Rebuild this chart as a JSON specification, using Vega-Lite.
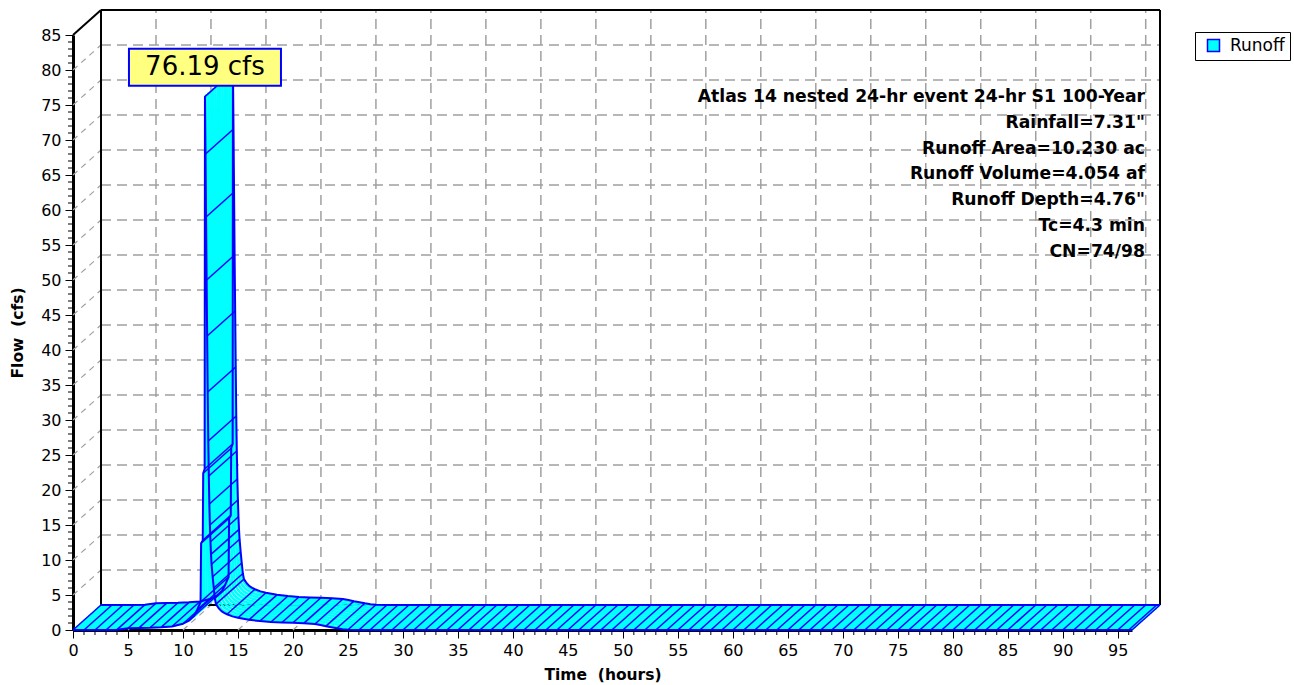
{
  "$schema": "https://vega.github.io/schema/vega-lite/v6.json",
  "width": 1059,
  "height": 595,
  "autosize": {"type": "none"},
  "padding": {"left": 73, "top": 35, "right": 162, "bottom": 55},
  "background": "#ffffff",
  "config": {
    "view": {"stroke": null},
    "font": "DejaVu Sans",
    "axisX": {
      "tickSize": 8, "grid": false, "domainColor": "#000000", "domainWidth": 3,
      "tickColor": "#000000", "tickWidth": 1,
      "labelFont": "DejaVu Sans", "labelFontSize": 16, "labelColor": "#000000", "labelPadding": 4,
      "labelFlush": false, "labelOverlap": false,
      "titleFont": "DejaVu Sans", "titleFontSize": 15.5, "titleFontWeight": "bold", "titleColor": "#000000", "titlePadding": 9
    },
    "axisY": {
      "tickSize": 8, "grid": false, "domainColor": "#000000", "domainWidth": 3,
      "tickColor": "#000000", "tickWidth": 1,
      "labelFont": "DejaVu Sans", "labelFontSize": 16, "labelColor": "#000000", "labelPadding": 4,
      "labelFlush": false, "labelOverlap": false,
      "titleFont": "DejaVu Sans", "titleFontSize": 15.5, "titleFontWeight": "bold", "titleColor": "#000000", "titlePadding": 15
    }
  },
  "datasets": {
    "hydro": [
      {"t": 0, "Q": 0}, {"t": 1, "Q": 0}, {"t": 2, "Q": 0}, {"t": 3, "Q": 0},
      {"t": 4, "Q": 0.05}, {"t": 5, "Q": 0.25}, {"t": 6, "Q": 0.3}, {"t": 7, "Q": 0.32},
      {"t": 8, "Q": 0.38}, {"t": 9, "Q": 0.5}, {"t": 10, "Q": 0.9}, {"t": 10.5, "Q": 1.3},
      {"t": 11, "Q": 2.0}, {"t": 11.3, "Q": 2.9}, {"t": 11.6, "Q": 4.0}, {"t": 11.65, "Q": 12.4},
      {"t": 11.8, "Q": 12.8}, {"t": 11.84, "Q": 22.4}, {"t": 11.97, "Q": 23}, {"t": 12, "Q": 76.19},
      {"t": 12.05, "Q": 68}, {"t": 12.1, "Q": 59}, {"t": 12.15, "Q": 50}, {"t": 12.2, "Q": 42},
      {"t": 12.25, "Q": 34}, {"t": 12.3, "Q": 27}, {"t": 12.35, "Q": 22}, {"t": 12.4, "Q": 18},
      {"t": 12.45, "Q": 15}, {"t": 12.5, "Q": 12.6}, {"t": 12.55, "Q": 10.8}, {"t": 12.6, "Q": 9.4},
      {"t": 12.7, "Q": 7.6}, {"t": 12.8, "Q": 6.0}, {"t": 12.9, "Q": 4.5}, {"t": 13, "Q": 3.7},
      {"t": 13.25, "Q": 3.1}, {"t": 13.5, "Q": 2.7}, {"t": 13.75, "Q": 2.45}, {"t": 14, "Q": 2.25},
      {"t": 14.5, "Q": 1.95}, {"t": 15, "Q": 1.75}, {"t": 16, "Q": 1.45}, {"t": 17, "Q": 1.28},
      {"t": 18, "Q": 1.15}, {"t": 19, "Q": 1.08}, {"t": 20, "Q": 1.03}, {"t": 21, "Q": 0.98},
      {"t": 22, "Q": 0.85}, {"t": 22.5, "Q": 0.72}, {"t": 23, "Q": 0.55}, {"t": 23.5, "Q": 0.4},
      {"t": 24, "Q": 0.25}, {"t": 24.5, "Q": 0.12}, {"t": 25, "Q": 0.04}, {"t": 26, "Q": 0},
      {"t": 27, "Q": 0}, {"t": 28, "Q": 0}, {"t": 29, "Q": 0}, {"t": 30, "Q": 0},
      {"t": 31, "Q": 0}, {"t": 32, "Q": 0}, {"t": 33, "Q": 0}, {"t": 34, "Q": 0},
      {"t": 35, "Q": 0}, {"t": 36, "Q": 0}, {"t": 37, "Q": 0}, {"t": 38, "Q": 0},
      {"t": 39, "Q": 0}, {"t": 40, "Q": 0}, {"t": 41, "Q": 0}, {"t": 42, "Q": 0},
      {"t": 43, "Q": 0}, {"t": 44, "Q": 0}, {"t": 45, "Q": 0}, {"t": 46, "Q": 0},
      {"t": 47, "Q": 0}, {"t": 48, "Q": 0}, {"t": 49, "Q": 0}, {"t": 50, "Q": 0},
      {"t": 51, "Q": 0}, {"t": 52, "Q": 0}, {"t": 53, "Q": 0}, {"t": 54, "Q": 0},
      {"t": 55, "Q": 0}, {"t": 56, "Q": 0}, {"t": 57, "Q": 0}, {"t": 58, "Q": 0},
      {"t": 59, "Q": 0}, {"t": 60, "Q": 0}, {"t": 61, "Q": 0}, {"t": 62, "Q": 0},
      {"t": 63, "Q": 0}, {"t": 64, "Q": 0}, {"t": 65, "Q": 0}, {"t": 66, "Q": 0},
      {"t": 67, "Q": 0}, {"t": 68, "Q": 0}, {"t": 69, "Q": 0}, {"t": 70, "Q": 0},
      {"t": 71, "Q": 0}, {"t": 72, "Q": 0}, {"t": 73, "Q": 0}, {"t": 74, "Q": 0},
      {"t": 75, "Q": 0}, {"t": 76, "Q": 0}, {"t": 77, "Q": 0}, {"t": 78, "Q": 0},
      {"t": 79, "Q": 0}, {"t": 80, "Q": 0}, {"t": 81, "Q": 0}, {"t": 82, "Q": 0},
      {"t": 83, "Q": 0}, {"t": 84, "Q": 0}, {"t": 85, "Q": 0}, {"t": 86, "Q": 0},
      {"t": 87, "Q": 0}, {"t": 88, "Q": 0}, {"t": 89, "Q": 0}, {"t": 90, "Q": 0},
      {"t": 91, "Q": 0}, {"t": 92, "Q": 0}, {"t": 93, "Q": 0}, {"t": 94, "Q": 0},
      {"t": 95, "Q": 0}, {"t": 96, "Q": 0}, {"t": 96.3, "Q": 0}
    ],
    "yTicks": [{"v": 5}, {"v": 10}, {"v": 15}, {"v": 20}, {"v": 25}, {"v": 30}, {"v": 35}, {"v": 40}, {"v": 45}, {"v": 50}, {"v": 55}, {"v": 60}, {"v": 65}, {"v": 70}, {"v": 75}, {"v": 80}],
    "xTicks": [{"v": 5}, {"v": 10}, {"v": 15}, {"v": 20}, {"v": 25}, {"v": 30}, {"v": 35}, {"v": 40}, {"v": 45}, {"v": 50}, {"v": 55}, {"v": 60}, {"v": 65}, {"v": 70}, {"v": 75}, {"v": 80}, {"v": 85}, {"v": 90}, {"v": 95}],
    "ints": [{"v": 1}, {"v": 2}, {"v": 3}, {"v": 4}, {"v": 6}, {"v": 7}, {"v": 8}, {"v": 9}, {"v": 11}, {"v": 12}, {"v": 13}, {"v": 14}, {"v": 16}, {"v": 17}, {"v": 18}, {"v": 19}, {"v": 21}, {"v": 22}, {"v": 23}, {"v": 24}, {"v": 26}, {"v": 27}, {"v": 28}, {"v": 29}, {"v": 31}, {"v": 32}, {"v": 33}, {"v": 34}, {"v": 36}, {"v": 37}, {"v": 38}, {"v": 39}, {"v": 41}, {"v": 42}, {"v": 43}, {"v": 44}, {"v": 46}, {"v": 47}, {"v": 48}, {"v": 49}, {"v": 51}, {"v": 52}, {"v": 53}, {"v": 54}, {"v": 56}, {"v": 57}, {"v": 58}, {"v": 59}, {"v": 61}, {"v": 62}, {"v": 63}, {"v": 64}, {"v": 66}, {"v": 67}, {"v": 68}, {"v": 69}, {"v": 71}, {"v": 72}, {"v": 73}, {"v": 74}, {"v": 76}, {"v": 77}, {"v": 78}, {"v": 79}, {"v": 81}, {"v": 82}, {"v": 83}, {"v": 84}, {"v": 86}, {"v": 87}, {"v": 88}, {"v": 89}, {"v": 91}, {"v": 92}, {"v": 93}, {"v": 94}, {"v": 96}],
    "one": [{"k": 1}],
    "peak": [{"t": 12, "Q": 76.19}]
  },
  "layer": [
    {
      "data": {"name": "yTicks"},
      "mark": {"type": "rule", "stroke": "#a0a0a0", "strokeWidth": 1.5, "strokeDash": [10, 6], "xOffset": 28, "x2Offset": 28, "yOffset": -25},
      "encoding": {
        "x": {"datum": 0, "type": "quantitative", "axis": {"values": [0,5,10,15,20,25,30,35,40,45,50,55,60,65,70,75,80,85,90,95]}},
        "x2": {"datum": 96.3},
        "y": {"field": "v", "type": "quantitative", "axis": {"values": [0,5,10,15,20,25,30,35,40,45,50,55,60,65,70,75,80,85]}}
      }
    },
    {
      "data": {"name": "xTicks"},
      "mark": {"type": "rule", "stroke": "#a0a0a0", "strokeWidth": 1.5, "strokeDash": [10, 6], "xOffset": 28, "yOffset": -25, "y2Offset": -25},
      "encoding": {
        "x": {"field": "v", "type": "quantitative", "axis": {"values": [0,5,10,15,20,25,30,35,40,45,50,55,60,65,70,75,80,85,90,95]}},
        "y": {"datum": 0, "type": "quantitative", "axis": {"values": [0,5,10,15,20,25,30,35,40,45,50,55,60,65,70,75,80,85]}},
        "y2": {"datum": 85}
      }
    },
    {
      "data": {"name": "yTicks"},
      "mark": {"type": "rule", "stroke": "#a0a0a0", "strokeWidth": 1.2, "strokeDash": [6, 5], "x2Offset": 28, "y2Offset": -25},
      "encoding": {
        "x": {"datum": 0, "type": "quantitative", "axis": {"values": [0,5,10,15,20,25,30,35,40,45,50,55,60,65,70,75,80,85,90,95]}},
        "x2": {"datum": 0},
        "y": {"field": "v", "type": "quantitative", "axis": {"values": [0,5,10,15,20,25,30,35,40,45,50,55,60,65,70,75,80,85]}},
        "y2": {"field": "v"}
      }
    },
    {
      "data": {"name": "xTicks"},
      "mark": {"type": "rule", "stroke": "#a0a0a0", "strokeWidth": 1.2, "strokeDash": [6, 5], "x2Offset": 28, "y2Offset": -25},
      "encoding": {
        "x": {"field": "v", "type": "quantitative", "axis": {"values": [0,5,10,15,20,25,30,35,40,45,50,55,60,65,70,75,80,85,90,95]}},
        "x2": {"field": "v"},
        "y": {"datum": 0, "type": "quantitative", "axis": {"values": [0,5,10,15,20,25,30,35,40,45,50,55,60,65,70,75,80,85]}},
        "y2": {"datum": 0}
      }
    },
    {
      "data": {"name": "ints"},
      "mark": {"type": "rule", "stroke": "#000000", "strokeWidth": 1, "y2Offset": 5},
      "encoding": {
        "x": {"field": "v", "type": "quantitative", "axis": {"values": [0,5,10,15,20,25,30,35,40,45,50,55,60,65,70,75,80,85,90,95]}},
        "y": {"datum": 0, "type": "quantitative", "axis": {"values": [0,5,10,15,20,25,30,35,40,45,50,55,60,65,70,75,80,85]}},
        "y2": {"datum": 0}
      }
    },
    {
      "data": {"name": "ints"},
      "transform": [{"filter": "datum.v < 85"}],
      "mark": {"type": "rule", "stroke": "#000000", "strokeWidth": 1, "x2Offset": -5},
      "encoding": {
        "x": {"datum": 0, "type": "quantitative", "axis": {"values": [0,5,10,15,20,25,30,35,40,45,50,55,60,65,70,75,80,85,90,95]}},
        "x2": {"datum": 0},
        "y": {"field": "v", "type": "quantitative", "axis": {"values": [0,5,10,15,20,25,30,35,40,45,50,55,60,65,70,75,80,85]}}
      }
    },
    {
      "data": {"name": "one"},
      "mark": {"type": "rule", "stroke": "#000000", "strokeWidth": 2, "xOffset": 28, "yOffset": -25, "y2Offset": -25},
      "encoding": {
        "x": {"datum": 0, "type": "quantitative", "axis": {"values": [0,5,10,15,20,25,30,35,40,45,50,55,60,65,70,75,80,85,90,95]}},
        "y": {"datum": 0, "type": "quantitative", "axis": {"values": [0,5,10,15,20,25,30,35,40,45,50,55,60,65,70,75,80,85]}},
        "y2": {"datum": 85}
      }
    },
    {
      "data": {"name": "one"},
      "mark": {"type": "rule", "stroke": "#000000", "strokeWidth": 2, "xOffset": 28, "yOffset": -25, "y2Offset": -25},
      "encoding": {
        "x": {"datum": 96.3, "type": "quantitative", "axis": {"values": [0,5,10,15,20,25,30,35,40,45,50,55,60,65,70,75,80,85,90,95]}},
        "y": {"datum": 0, "type": "quantitative", "axis": {"values": [0,5,10,15,20,25,30,35,40,45,50,55,60,65,70,75,80,85]}},
        "y2": {"datum": 85}
      }
    },
    {
      "data": {"name": "one"},
      "mark": {"type": "rule", "stroke": "#000000", "strokeWidth": 2, "xOffset": 28, "x2Offset": 28, "yOffset": -25},
      "encoding": {
        "x": {"datum": 0, "type": "quantitative", "axis": {"values": [0,5,10,15,20,25,30,35,40,45,50,55,60,65,70,75,80,85,90,95]}},
        "x2": {"datum": 96.3},
        "y": {"datum": 85, "type": "quantitative", "axis": {"values": [0,5,10,15,20,25,30,35,40,45,50,55,60,65,70,75,80,85]}}
      }
    },
    {
      "data": {"name": "one"},
      "mark": {"type": "rule", "stroke": "#000000", "strokeWidth": 2, "xOffset": 28, "x2Offset": 28, "yOffset": -25},
      "encoding": {
        "x": {"datum": 0, "type": "quantitative", "axis": {"values": [0,5,10,15,20,25,30,35,40,45,50,55,60,65,70,75,80,85,90,95]}},
        "x2": {"datum": 96.3},
        "y": {"datum": 0, "type": "quantitative", "axis": {"values": [0,5,10,15,20,25,30,35,40,45,50,55,60,65,70,75,80,85]}}
      }
    },
    {
      "data": {"name": "one"},
      "mark": {"type": "rule", "stroke": "#000000", "strokeWidth": 2, "x2Offset": 28, "y2Offset": -25},
      "encoding": {
        "x": {"datum": 0, "type": "quantitative", "axis": {"values": [0,5,10,15,20,25,30,35,40,45,50,55,60,65,70,75,80,85,90,95]}},
        "x2": {"datum": 0},
        "y": {"datum": 85, "type": "quantitative", "axis": {"values": [0,5,10,15,20,25,30,35,40,45,50,55,60,65,70,75,80,85]}},
        "y2": {"datum": 85}
      }
    },
    {
      "encoding": {
        "x": {
          "field": "t", "type": "quantitative", "title": "Time\u00a0 (hours)",
          "scale": {"domain": [0, 96.3], "nice": false, "zero": false},
          "axis": {"values": [0,5,10,15,20,25,30,35,40,45,50,55,60,65,70,75,80,85,90,95]}
        },
        "y": {
          "field": "Q", "type": "quantitative", "title": "Flow\u00a0 (cfs)",
          "scale": {"domain": [0, 85], "nice": false, "zero": false},
          "axis": {"values": [0,5,10,15,20,25,30,35,40,45,50,55,60,65,70,75,80,85]}
        }
      },
      "layer": [
        {"data": {"name": "hydro"}, "mark": {"type": "line", "stroke": "#00ffff", "strokeWidth": 2.6, "strokeJoin": "round", "xOffset": 1.17, "yOffset": -1.04}},
        {"data": {"name": "hydro"}, "mark": {"type": "line", "stroke": "#00ffff", "strokeWidth": 2.6, "strokeJoin": "round", "xOffset": 3.5, "yOffset": -3.13}},
        {"data": {"name": "hydro"}, "mark": {"type": "line", "stroke": "#00ffff", "strokeWidth": 2.6, "strokeJoin": "round", "xOffset": 5.83, "yOffset": -5.21}},
        {"data": {"name": "hydro"}, "mark": {"type": "line", "stroke": "#00ffff", "strokeWidth": 2.6, "strokeJoin": "round", "xOffset": 8.17, "yOffset": -7.29}},
        {"data": {"name": "hydro"}, "mark": {"type": "line", "stroke": "#00ffff", "strokeWidth": 2.6, "strokeJoin": "round", "xOffset": 10.5, "yOffset": -9.38}},
        {"data": {"name": "hydro"}, "mark": {"type": "line", "stroke": "#00ffff", "strokeWidth": 2.6, "strokeJoin": "round", "xOffset": 12.83, "yOffset": -11.46}},
        {"data": {"name": "hydro"}, "mark": {"type": "line", "stroke": "#00ffff", "strokeWidth": 2.6, "strokeJoin": "round", "xOffset": 15.17, "yOffset": -13.54}},
        {"data": {"name": "hydro"}, "mark": {"type": "line", "stroke": "#00ffff", "strokeWidth": 2.6, "strokeJoin": "round", "xOffset": 17.5, "yOffset": -15.63}},
        {"data": {"name": "hydro"}, "mark": {"type": "line", "stroke": "#00ffff", "strokeWidth": 2.6, "strokeJoin": "round", "xOffset": 19.83, "yOffset": -17.71}},
        {"data": {"name": "hydro"}, "mark": {"type": "line", "stroke": "#00ffff", "strokeWidth": 2.6, "strokeJoin": "round", "xOffset": 22.17, "yOffset": -19.79}},
        {"data": {"name": "hydro"}, "mark": {"type": "line", "stroke": "#00ffff", "strokeWidth": 2.6, "strokeJoin": "round", "xOffset": 24.5, "yOffset": -21.88}},
        {"data": {"name": "hydro"}, "mark": {"type": "line", "stroke": "#00ffff", "strokeWidth": 2.6, "strokeJoin": "round", "xOffset": 26.83, "yOffset": -23.96}},
        {
          "data": {"name": "hydro"},
          "transform": [{"filter": "datum.t % 1 === 0 || (datum.t >= 11.3 && datum.t <= 13) || datum.t > 96"}],
          "mark": {"type": "rule", "stroke": "#0000ff", "strokeWidth": 1.5, "x2Offset": 28, "y2Offset": -25},
          "encoding": {
            "x2": {"field": "t"},
            "y2": {"field": "Q"}
          }
        },
        {"data": {"name": "hydro"}, "mark": {"type": "line", "stroke": "#0000ff", "strokeWidth": 2, "strokeJoin": "round", "xOffset": 28, "yOffset": -25}},
        {
          "data": {"name": "hydro"},
          "mark": {"type": "line", "strokeWidth": 2, "strokeJoin": "round"},
          "encoding": {
            "stroke": {
              "datum": "Runoff", "type": "nominal",
              "scale": {"range": ["#0000ff"]},
              "legend": {
                "orient": "none", "legendX": 1122, "legendY": -3, "title": null,
                "fillColor": "#ffffff", "strokeColor": "#000000", "padding": 5,
                "symbolOffset": 5, "labelOffset": 8, "labelFont": "DejaVu Sans", "labelFontSize": 17, "labelColor": "#000000",
                "symbolType": "square", "symbolSize": 144,
                "symbolFillColor": "#00ffff", "symbolStrokeColor": "#0000ff", "symbolStrokeWidth": 1.5,
                "encode": {"symbols": {"update": {"fill": {"value": "#00ffff"}, "stroke": {"value": "#0000ff"}, "strokeWidth": {"value": 1.5}, "opacity": {"value": 1}}}}
              }
            }
          }
        },
        {
          "data": {"name": "peak"},
          "mark": {"type": "point", "shape": "M-1,-0.2434L1,-0.2434L1,0.2434L-1,0.2434Z", "size": 23104, "filled": true, "fill": "#ffff80", "stroke": "#0000ff", "strokeWidth": 2, "opacity": 1, "fillOpacity": 1, "yOffset": -29.5}
        },
        {
          "data": {"name": "peak"},
          "mark": {"type": "text", "text": "76.19 cfs", "font": "DejaVu Sans", "fontSize": 26, "color": "#000000", "align": "center", "baseline": "middle", "dy": -30}
        }
      ]
    },
    {
      "data": {"name": "one"},
      "mark": {
        "type": "text", "font": "DejaVu Sans", "fontWeight": "bold", "fontSize": 17.2, "color": "#000000",
        "align": "right", "baseline": "alphabetic", "dx": 13, "dy": 67, "lineHeight": 25.8,
        "text": ["Atlas 14 nested 24-hr event 24-hr S1 100-Year", "Rainfall=7.31\"", "Runoff Area=10.230 ac", "Runoff Volume=4.054 af", "Runoff Depth=4.76\"", "Tc=4.3 min", "CN=74/98"]
      },
      "encoding": {
        "x": {"datum": 96.3, "type": "quantitative", "axis": {"values": [0,5,10,15,20,25,30,35,40,45,50,55,60,65,70,75,80,85,90,95]}},
        "y": {"datum": 85, "type": "quantitative", "axis": {"values": [0,5,10,15,20,25,30,35,40,45,50,55,60,65,70,75,80,85]}}
      }
    }
  ]
}
